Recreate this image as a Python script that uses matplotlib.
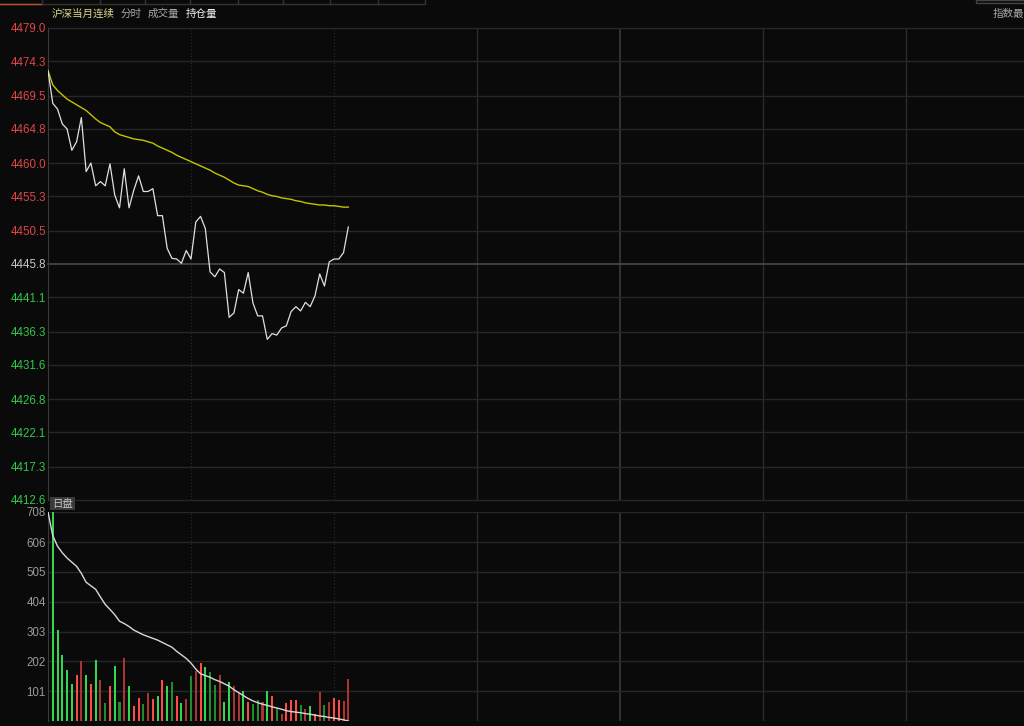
import matplotlib
matplotlib.use("Agg")
import matplotlib.pyplot as plt
from matplotlib.lines import Line2D
from matplotlib.patches import Rectangle

plt.rcParams['font.family'] = ['Liberation Sans', 'Noto Sans CJK SC', 'DejaVu Sans']

# ---- data (minute index from open) ----
price = [4473.0, 4468.4, 4467.6, 4465.5, 4464.8, 4461.8, 4463.0, 4466.4, 4458.8, 4460.0,
         4456.8, 4457.4, 4456.8, 4459.9, 4455.5, 4453.7, 4459.2, 4453.7, 4456.2, 4458.2,
         4456.0, 4456.0, 4456.4, 4452.6, 4452.6, 4448.0, 4446.6, 4446.5, 4445.9, 4447.7,
         4446.5, 4451.7, 4452.5, 4450.8, 4444.7, 4444.0, 4445.1, 4444.6, 4438.3, 4438.9,
         4442.2, 4441.7, 4444.6, 4440.3, 4438.5, 4438.5, 4435.2, 4436.0, 4435.8, 4436.8,
         4437.1, 4439.1, 4439.8, 4439.2, 4440.4, 4439.8, 4441.3, 4444.4, 4442.7, 4446.1,
         4446.5, 4446.5, 4447.4, 4451.0]
avg_price = [4473.0, 4471.0, 4470.2, 4469.6, 4469.0, 4468.6, 4468.2, 4467.8, 4467.4, 4466.8,
             4466.2, 4465.7, 4465.4, 4465.1, 4464.4, 4464.0, 4463.8, 4463.6, 4463.4, 4463.3,
             4463.2, 4463.0, 4462.8, 4462.4, 4462.1, 4461.8, 4461.5, 4461.1, 4460.8, 4460.5,
             4460.2, 4459.9, 4459.6, 4459.3, 4459.0, 4458.6, 4458.3, 4458.0, 4457.6, 4457.2,
             4456.9, 4456.8, 4456.7, 4456.4, 4456.1, 4455.9, 4455.6, 4455.4, 4455.3, 4455.1,
             4455.0, 4454.9, 4454.7, 4454.6, 4454.4, 4454.3, 4454.2, 4454.1, 4454.1, 4454.0,
             4454.0, 4453.9, 4453.8, 4453.8]
volume = [27, 708, 307, 223, 174, 127, 157, 202, 157, 127,
          205, 140, 62, 118, 188, 64, 212, 120, 50, 77,
          57, 94, 75, 86, 140, 118, 131, 86, 62, 75,
          154, 171, 197, 183, 165, 123, 157, 66, 133, 117,
          94, 102, 66, 58, 71, 65, 103, 85, 40, 24,
          62, 71, 71, 54, 41, 51, 24, 98, 54, 66,
          77, 71, 68, 142]
# G bright green, g dark green, R bright red, r dark red
bar_kind = "RGGGGGRrGRGrgRGgrGRRgrRGRGgRGrgrRGggrGGrrGRggrGRgrRRRgrGRrgrRRrr"
vol_line = [708, 628, 592, 570, 552, 538, 524, 500, 470, 458,
            446, 420, 395, 378, 360, 338, 330, 320, 308, 300,
            292, 286, 280, 274, 266, 258, 250, 236, 224, 212,
            196, 176, 160, 154, 148, 140, 134, 126, 118, 106,
            96, 86, 76, 68, 62, 57, 53, 48, 44, 40,
            35, 32, 30, 28, 25, 23, 20, 17, 15, 12,
            10, 7, 4, 0]

price_ticks = [4412.6, 4417.3, 4422.1, 4426.8, 4431.6, 4436.3, 4441.1, 4445.8,
               4450.5, 4455.3, 4460.0, 4464.8, 4469.5, 4474.3, 4479.0]
pre_close = 4445.8
vol_ticks = [101, 202, 303, 404, 505, 606, 708]
header = ["沪深当月连续", "分时", "成交量", "持仓量"]

BG = '#0a0a0a'
GRID = '#262626'
W, H = 1024, 726


def frac(x0, y0, x1, y1):
    return [x0 / W, 1 - y1 / H, (x1 - x0) / W, (y1 - y0) / H]


fig = plt.figure(figsize=(W / 100, H / 100), dpi=100, facecolor=BG)

ax_p = fig.add_axes(frac(48, 28, 48 + 1144, 500))
ax_v = fig.add_axes(frac(48, 512, 48 + 1144, 721))

for ax in (ax_p, ax_v):
    ax.set_facecolor(BG)
    for s in ('top', 'right', 'bottom'):
        ax.spines[s].set_visible(False)
    ax.spines['left'].set_color('#3a3a3a')
    ax.set_xlim(0, 240)
    ax.set_xticks([])
    ax.tick_params(axis='y', length=0, pad=1.5, labelsize=8.3)
    for m in (30, 60):
        ax.axvline(m, color='#2c2c2c', lw=0.8, ls=(0, (1, 2)), zorder=0)
    for m in (90, 150, 180, 210):
        ax.axvline(m, color='#2a2a2a', lw=1, zorder=0)
    ax.axvline(120, color='#3a3a3a', lw=1.2, zorder=0)

xs = list(range(len(price)))

# price panel
ax_p.set_ylim(price_ticks[0], price_ticks[-1])
ax_p.set_yticks(price_ticks)
ax_p.set_yticklabels(['%.1f' % t for t in price_ticks])
for t, lab in zip(price_ticks, ax_p.get_yticklabels()):
    if t > pre_close + 0.01:
        lab.set_color('#e04545')
    elif t < pre_close - 0.01:
        lab.set_color('#2fc84a')
    else:
        lab.set_color('#c8c8c8')
    ax_p.axhline(t, color='#4a4a4a' if abs(t - pre_close) < 0.01 else GRID,
                 lw=1.2 if abs(t - pre_close) < 0.01 else 1, zorder=0, clip_on=False)
ax_p.plot(xs, avg_price, color='#c4c400', lw=1, zorder=3)
ax_p.plot(xs, price, color='#e0e0e0', lw=0.9, zorder=4)

# volume panel
ax_v.set_ylim(0, 708)
ax_v.set_yticks(vol_ticks)
ax_v.set_yticklabels([str(v) for v in vol_ticks], color='#9a9a9a')
for v in vol_ticks:
    ax_v.axhline(v, color=GRID, lw=1, zorder=0)
ax_v.axhline(0, color='#222222', lw=1, zorder=0)
colors = {'G': '#33d651', 'g': '#1f8c31', 'R': '#ff4a4a', 'r': '#a83434'}
ax_v.bar(xs, volume, width=0.42, color=[colors[k] for k in bar_kind], zorder=2)
ax_v.plot(xs, vol_line, color='#d8d8d8', lw=1, zorder=3)

# header
hx = [52, 121, 148, 186]
hc = ['#d8d88c', '#a8a8a8', '#a8a8a8', '#f0f0f0']
for x, txt, c in zip(hx, header, hc):
    fig.text(x / W, 1 - 14 / H, txt, color=c, fontsize=7.6, va='center', ha='left',
             family=['Noto Sans CJK SC', 'DejaVu Sans'])
fig.text(993 / W, 1 - 14 / H, "指数最", color='#a8a8a8', fontsize=7.6, va='center',
         ha='left', family=['Noto Sans CJK SC', 'DejaVu Sans'])

# tab strip at the top
fig.add_artist(Line2D([0, 425 / W], [1 - 4 / H, 1 - 4 / H], color='#333333', lw=1))
fig.add_artist(Line2D([0, 42 / W], [1 - 4 / H, 1 - 4 / H], color='#c0502a', lw=1))
for x in (42, 100, 145, 190, 238, 283, 330, 378, 425):
    fig.add_artist(Line2D([x / W, x / W], [1, 1 - 4 / H], color='#333333', lw=1))
fig.add_artist(Rectangle((976 / W, 1 - 3 / H), 48 / W, 3 / H, fill=False,
                         edgecolor='#444444', lw=1))

# session tag
fig.add_artist(Rectangle((50 / W, 1 - 510 / H), 25 / W, 13 / H, facecolor='#3a3a3a',
                         edgecolor='none', zorder=5))
fig.text(62.5 / W, 1 - 503.5 / H, "日盘", color='#c8c8c8', fontsize=7.5, ha='center',
         va='center', family=['Noto Sans CJK SC', 'DejaVu Sans'], zorder=6)

fig.savefig('out.png', dpi=100, facecolor=BG)
